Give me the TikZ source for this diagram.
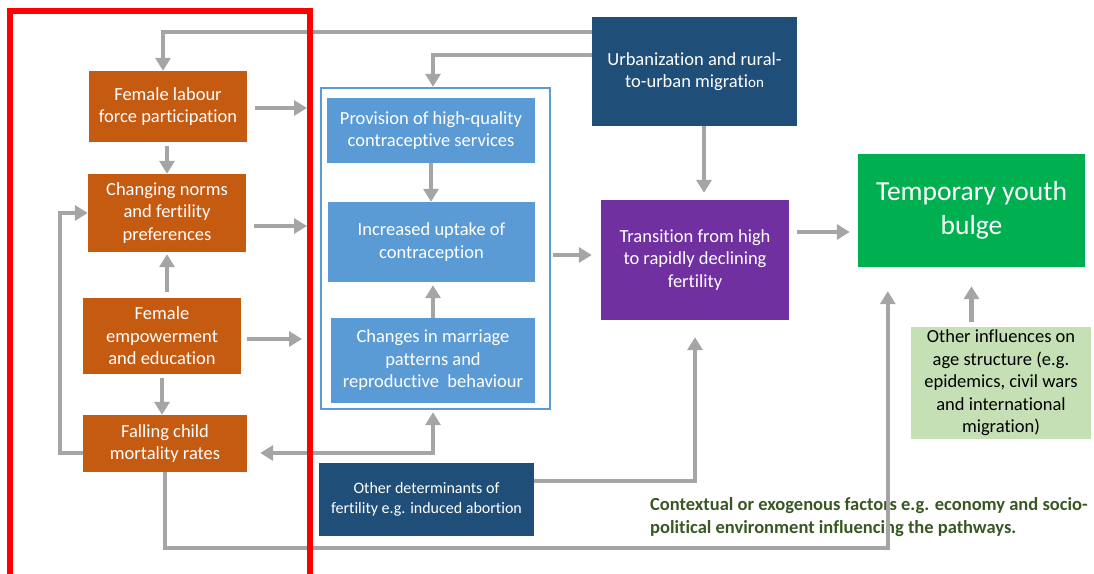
\documentclass[tikz,border=0pt]{standalone}
\usepackage{fontspec}
\setmainfont{Carlito}[Ligatures=NoCommon]
\usetikzlibrary{arrows.meta}
\definecolor{orng}{HTML}{C55A11}
\definecolor{lblue}{HTML}{5B9BD5}
\definecolor{dblue}{HTML}{1F4E79}
\definecolor{purp}{HTML}{7030A0}
\definecolor{grn}{HTML}{00B050}
\definecolor{lgrn}{HTML}{C5E0B4}
\definecolor{agrey}{HTML}{A5A5A5}
\definecolor{ctxgreen}{HTML}{385723}
\definecolor{framered}{HTML}{FF0000}

\begin{document}
\begin{tikzpicture}[x=1pt,y=-1pt,
  box/.style={inner sep=0pt, align=center, text=white, font=\fontsize{18.5}{22.5}\selectfont},
  gtip/.tip={Triangle[length=13pt,width=15pt]},
  arr/.style={draw=agrey, line width=4.5pt, -gtip},
  arrboth/.style={draw=agrey, line width=4.5pt, gtip-gtip},
]
\useasboundingbox (0,0) rectangle (1094,573);

% left column: drivers
\node[box, fill=orng, minimum width=158pt, minimum height=71pt] (labour) at (168,106.5)
  {Female labour\\force participation};
\node[box, fill=orng, minimum width=158pt, minimum height=78pt] (norms) at (167,213)
  {Changing norms\\and fertility\\preferences};
\node[box, fill=orng, minimum width=158pt, minimum height=76pt] (empower) at (162,336)
  {Female\\empowerment\\and education};
\node[box, fill=orng, minimum width=164pt, minimum height=57pt] (child) at (165,443.5)
  {Falling child\\mortality rates};

% proximate determinants group
\node[draw=lblue, line width=2.5pt, fill=white, inner sep=0pt,
      minimum width=229pt, minimum height=321pt] (grp) at (435.5,248.5) {};
\node[box, fill=lblue, minimum width=208pt, minimum height=65pt] (provision) at (431,130.5)
  {Provision of high-quality\\contraceptive services};
\node[box, fill=lblue, minimum width=207pt, minimum height=80pt] (uptake) at (431.5,242)
  {Increased uptake of\\contraception};
\node[box, fill=lblue, minimum width=204pt, minimum height=85pt] (marriage) at (433,360.5)
  {Changes in marriage\\patterns and\\reproductive\ \ behaviour};

% other boxes
\node[box, fill=dblue, minimum width=205pt, minimum height=109pt] (urban) at (694.5,71.5)
  {Urbanization and rural-\\to-urban migrati{\fontsize{15}{22.5}\selectfont on}};
\node[box, fill=purp, minimum width=188pt, minimum height=120pt] (transition) at (695,260)
  {Transition from high\\to rapidly declining\\fertility};
\node[box, fill=grn, minimum width=227pt, minimum height=113pt,
      font=\fontsize{27.5}{34}\selectfont] (bulge) at (971.5,210.5)
  {Temporary youth\\bulge};
\node[box, fill=dblue, minimum width=215pt, minimum height=73pt,
      font=\fontsize{16}{20}\selectfont] (otherdet) at (426.5,499.5)
  {Other determinants of\\fertility e.g. induced abortion};
\node[box, fill=lgrn, text=black, minimum width=180pt, minimum height=112pt] (influences) at (1001,383)
  {Other influences on\\age structure (e.g.\\epidemics, civil wars\\and international\\migration)};

\node[anchor=north west, inner sep=0pt, align=left, text=ctxgreen,
      font=\bfseries\fontsize{18.5}{23}\selectfont] (ctx) at (650,497)
  {Contextual or exogenous factors e.g. economy and socio-\\political environment influencing the pathways.};

% connectors
\coordinate (yTop) at (0,32);
\draw[arr] (urban.west |- yTop) -| ([xshift=-5pt]labour.north);

\coordinate (inA) at (307,108);
\draw[arr, shorten <=8pt] (labour.east |- inA) -- (inA);
\draw[arr, shorten <=4pt] (labour.south -| norms.north) -- (norms.north);

\coordinate (inB) at (307,226);
\draw[arr, shorten <=8pt] (norms.east |- inB) -- (inB);
\draw[arr, shorten <=6pt, shorten >=2pt] (empower.north -| norms.south) -- (norms.south);

\coordinate (inC) at (302,339);
\draw[arr, shorten <=6pt] (empower.east |- inC) -- (inC);
\draw[arr, shorten <=4pt] (empower.south) -- (empower.south |- child.north);

\coordinate (loopX) at (60,0);
\draw[arr] ([yshift=-9.5pt]child.west) -| (loopX |- empower.center) |- (norms.west);

\coordinate (yBot) at (0,548);
\draw[arr, shorten >=24pt] (child.south) -- (child.south |- yBot) -| ([xshift=30pt]bulge.south west);

\draw[arrboth, shorten <=13pt, shorten >=9pt] ([yshift=-9.5pt]child.east) -| (marriage.south);

\draw[arr] (provision.south) -- (provision.south |- uptake.north);
\draw[arr, shorten >=3pt] (marriage.north) -- (marriage.north |- uptake.south);
\draw[arr] ([yshift=16.5pt]urban.west) -| (grp.north -| marriage.south);

\coordinate (uS) at ([xshift=9.5pt]urban.south);
\draw[arr, shorten >=7pt] (uS) -- (uS |- transition.north);

\coordinate (inT) at (0,255);
\draw[arr, shorten <=2pt, shorten >=9pt] (grp.east |- inT) -- (transition.west |- inT);

\coordinate (yTB) at (0,232);
\draw[arr, shorten <=8pt, shorten >=8pt] (transition.east |- yTB) -- (bulge.west |- yTB);

\draw[arr, shorten >=17pt] ([yshift=18.5pt]otherdet.east) -| (transition.south);
\draw[arr, shorten <=5pt, shorten >=19pt] (influences.north -| bulge.south) -- (bulge.south);

% highlight frame round the left column
\draw[framered, line width=6pt] (10,11) rectangle (310,590);
\end{tikzpicture}
\end{document}
